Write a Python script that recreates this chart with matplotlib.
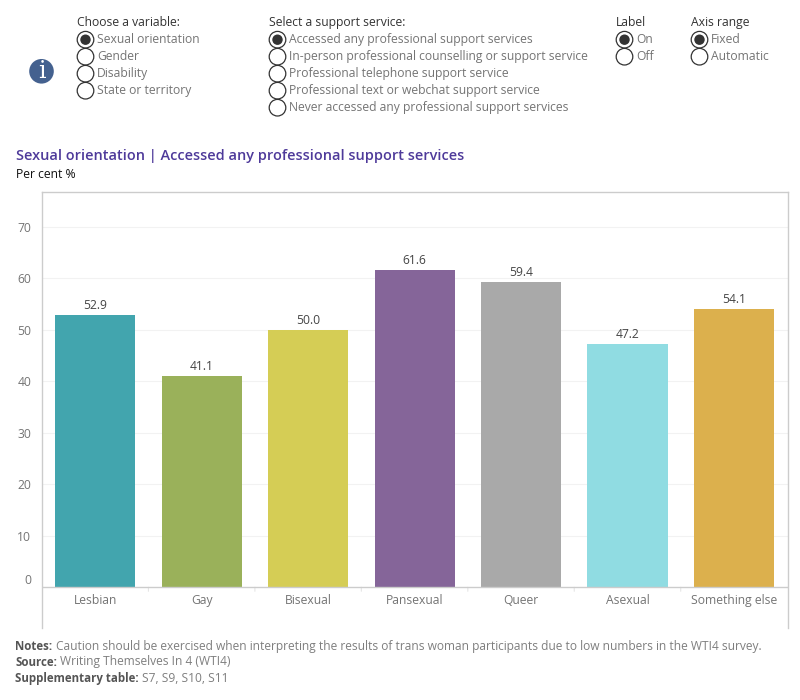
import matplotlib
matplotlib.use("Agg")
import matplotlib.pyplot as plt
from matplotlib.patches import Circle

W, H = 800, 700
FONT = "Open Sans"
plt.rcParams["font.family"] = [FONT, "DejaVu Sans"]

categories = ["Lesbian", "Gay", "Bisexual", "Pansexual", "Queer", "Asexual", "Something else"]
values = [52.9, 41.1, 50.0, 61.6, 59.4, 47.2, 54.1]
bar_colors = ["#42A5AE", "#9AB15A", "#D5CD55", "#856599", "#A9A9A9", "#90DCE2", "#DCB04D"]
y_ticks = [0, 10, 20, 30, 40, 50, 60, 70]

variable_options = ["Sexual orientation", "Gender", "Disability", "State or territory"]
service_options = [
    "Accessed any professional support services",
    "In-person professional counselling or support service",
    "Professional telephone support service",
    "Professional text or webchat support service",
    "Never accessed any professional support services",
]
label_options = ["On", "Off"]
range_options = ["Fixed", "Automatic"]

DARK = "#333333"
GREY = "#747474"
FRAME = "#CCCCCC"
BODY_SIZE = 8.7

fig = plt.figure(figsize=(W / 100, H / 100), dpi=100, facecolor="white")

# Chart area, placed in pixel terms
left, right, top, bottom = 42.3, 787.5, 192.2, 627.7
ax = fig.add_axes([left / W, 1 - bottom / H, (right - left) / W, (bottom - top) / H])
px_per_unit = 5.148
zero_y = 587.3
ax.set_ylim(-(bottom - zero_y) / px_per_unit, (zero_y - top) / px_per_unit)
ax.set_xlim(-0.497, len(categories) - 0.497)

positions = list(range(len(categories)))
ax.bar(positions, values, width=0.752, color=bar_colors, zorder=3)
for p, v in zip(positions, values):
    ax.annotate(f"{v:.1f}", (p, v), xytext=(0, 3), textcoords="offset pixels",
                ha="center", va="bottom", fontsize=BODY_SIZE, color="#444444", zorder=4)

for s in ax.spines.values():
    s.set_color(FRAME)
    s.set_linewidth(1.0)
ax.spines["bottom"].set_visible(False)
ax.axhline(0, color=FRAME, lw=1.0, zorder=4)
for t in y_ticks[1:]:
    ax.axhline(t, color="#F2F2F2", lw=0.8, zorder=1)

# Value axis labels; the zero label sits just above the baseline
ax.set_yticks(y_ticks)
ax.set_yticklabels([str(t) for t in y_ticks], fontsize=BODY_SIZE, color=GREY)
ax.tick_params(axis="y", length=0, pad=8)
ax.get_yticklabels()[0].set_verticalalignment("bottom")

# Category labels and short pane separators under the baseline
ax.set_xticks([])
for p, name in zip(positions, categories):
    ax.annotate(name, (p, 0), xytext=(0, -7), textcoords="offset pixels",
                ha="center", va="top", fontsize=BODY_SIZE, color=GREY)
for p in positions[:-1]:
    ax.annotate("", (p + 0.5, 0), xytext=(0, -4), textcoords="offset pixels",
                arrowprops=dict(arrowstyle="-", color="#E6E6E6", lw=0.8, shrinkA=0, shrinkB=0))

# Overlay in pixel coordinates for the controls, headings and notes
ov = fig.add_axes([0, 0, 1, 1], facecolor="none")
ov.set_xlim(0, W)
ov.set_ylim(H, 0)
ov.axis("off")


def radio_group(x, title, options, y0=22.6, step=17):
    ov.text(x, y0, title, fontsize=BODY_SIZE, color=DARK, va="center", ha="left")
    for i, opt in enumerate(options):
        y = 39.7 + i * step
        ov.add_patch(Circle((x + 8.5, y), 8.3, fc="white", ec="#333333", lw=0.9, zorder=3))
        if i == 0:
            ov.add_patch(Circle((x + 8.5, y), 5.2, fc="#333333", ec="none", zorder=4))
    # Labels go on top of every ring so overlapping rings stay behind them
    for i, opt in enumerate(options):
        y = y0 + 17.2 + i * step
        ov.text(x + 20, y, opt, fontsize=BODY_SIZE, color=GREY, va="center", ha="left", zorder=5)


radio_group(77, "Choose a variable:", variable_options)
radio_group(269, "Select a support service:", service_options)
radio_group(616, "Label", label_options)
radio_group(691, "Axis range", range_options)

# Information badge
ov.add_patch(Circle((41.5, 71.3), 12.3, fc="#44618F", ec="none"))
ov.text(41.5, 71.3, "i", fontsize=17, color="white", family="DejaVu Serif",
        ha="center", va="center")

ov.text(16, 156, "Sexual orientation | Accessed any professional support services",
        fontsize=10.45, weight="semibold", color="#4E3A9A", va="center", ha="left")
ov.text(16, 175, "Per cent %", fontsize=BODY_SIZE, color="#111111", va="center", ha="left")


def note(y, head, body):
    t = ov.text(15, y, head, fontsize=8.3, weight="bold", color="#555555", va="center", ha="left")
    fig.canvas.draw()
    box = t.get_window_extent()
    ov.text(box.x1 + 3.5, y, body, fontsize=8.67, color="#7F7F7F", va="center", ha="left")


note(646.3, "Notes:", "Caution should be exercised when interpreting the results of trans woman "
                      "participants due to low numbers in the WTI4 survey.")
note(662, "Source:", "Writing Themselves In 4 (WTI4)")
note(678.8, "Supplementary table:", "S7, S9, S10, S11")

fig.savefig("out.png", dpi=100, facecolor="white")
